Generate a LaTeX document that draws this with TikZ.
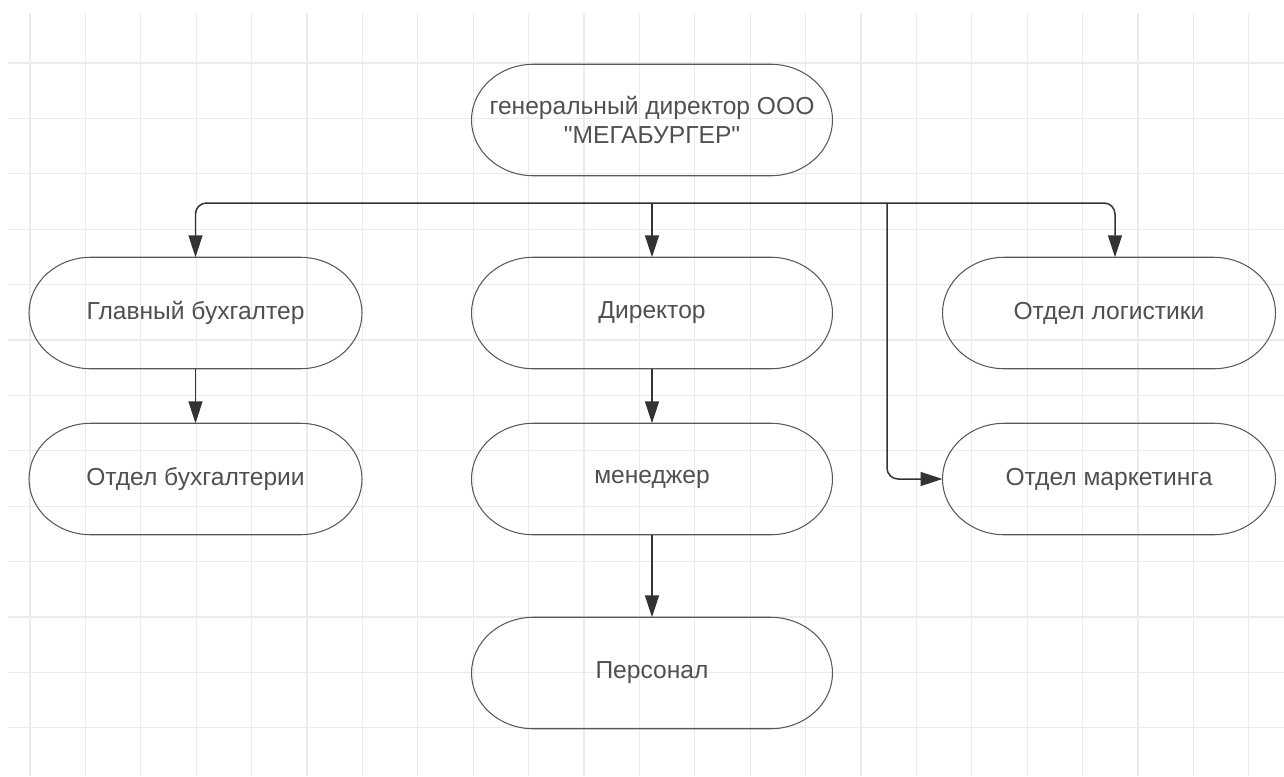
\documentclass[tikz,border=0pt]{standalone}
\usepackage{fontspec}
\setmainfont{Liberation Sans}[Ligatures=TeXOff]
\usetikzlibrary{arrows.meta}
\definecolor{linegray}{HTML}{333333}
\definecolor{textgray}{HTML}{505050}
\definecolor{gridgray}{HTML}{EBEBEB}

\begin{document}
\begin{tikzpicture}[
  box/.style={minimum height=2.23cm, outer sep=0pt, align=center, text=textgray, font=\fontsize{14}{17}\selectfont},
  wide/.style={box, minimum width=7.22cm},
  narrow/.style={box, minimum width=6.66cm},
  link/.style={->, >={Triangle[length=0.44cm,width=0.28cm]}, draw=linegray, line width=0.85pt},
  rim/.style={draw=black!65, line width=0.6pt}
]
 % Set the grid step and the radii of the rounded ends
 \def\gridstep{1.108}
 \def\rx{1.24cm}
 \def\ry{1.115cm}
 \useasboundingbox (0,0) rectangle (25.68,-15.52);

 % Light grid behind the chart
 \foreach \i in {0,...,22} {
 	\draw[gridgray, line width=0.6pt] ({0.6+\gridstep*\i},-0.26) -- ({0.6+\gridstep*\i},-15.52);
 }
 \foreach \j in {0,...,12} {
 	\draw[gridgray, line width=0.6pt] (0.16,{-1.26-\gridstep*\j}) -- (25.68,{-1.26-\gridstep*\j});
 }

 % Place the boxes
 \node[wide] (gen) at (13.04,-2.40) {генеральный директор ООО\\"МЕГАБУРГЕР"};
 \node[narrow] (glav) at (3.91,-6.26) {Главный бухгалтер};
 \node[wide] (dir) at (13.04,-6.26) {Директор};
 \node[narrow] (log) at (22.18,-6.26) {Отдел логистики};
 \node[narrow] (buh) at (3.91,-9.58) {Отдел бухгалтерии};
 \node[wide] (men) at (13.04,-9.58) {менеджер};
 \node[narrow] (mark) at (22.18,-9.58) {Отдел маркетинга};
 \node[wide] (pers) at (13.04,-13.46) {Персонал};

 % Draw the rounded outline of every box
 \foreach \n in {gen,glav,dir,log,buh,men,mark,pers} {
 	\draw[rim] ([xshift=\rx]\n.north west) -- ([xshift=-\rx]\n.north east)
 		arc[start angle=90, end angle=-90, x radius=\rx, y radius=\ry]
 		-- ([xshift=\rx]\n.south west)
 		arc[start angle=270, end angle=90, x radius=\rx, y radius=\ry] -- cycle;
 }

 % Connectors from the bus line
 \coordinate (bus) at (13.04,-4.06);
 \coordinate (split) at (17.74,-4.06);
 \draw[link, rounded corners=0.22cm] (bus) -| (glav);
 \draw[link, rounded corners=0.22cm] (bus) -| ([xshift=0.12cm]log.north);
 \draw[link] (bus) -- (dir);
 \draw[link, rounded corners=0.22cm] (split) |- (mark);

 % Connectors inside the columns
 \draw[link] (glav) -- (buh);
 \draw[link] (dir) -- (men);
 \draw[link] (men) -- (pers);
\end{tikzpicture}
\end{document}
